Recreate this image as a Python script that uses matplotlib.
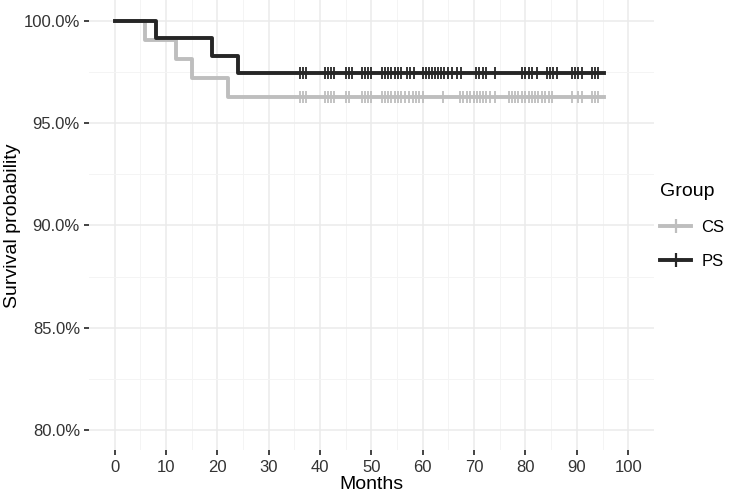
import numpy as np
import matplotlib.pyplot as plt
from matplotlib.lines import Line2D

plt.rcParams['font.family'] = ['Liberation Sans', 'DejaVu Sans']

# Kaplan-Meier steps (months, survival %)
cs_event_times = [6, 12, 15, 22]
cs_surv = [100.0, 99.07, 98.15, 97.22, 96.30]
ps_event_times = [8, 19, 24]
ps_surv = [100.0, 99.15, 98.29, 97.44]
end_time = 95.2

# censored times
cs_censor = [36.0, 36.6, 37.2, 41.0, 41.6, 42.2, 42.8, 45.0, 45.6, 48.1, 48.7, 49.3, 49.9,
             52.0, 52.6, 53.3, 53.9, 54.5, 55.2, 55.8, 56.6, 57.3, 58.0, 58.7, 59.3, 60.1,
             64.0, 67.3, 67.9, 68.6, 69.2, 69.9, 70.5, 71.2, 71.8, 72.4, 73.1, 74.0,
             76.7, 77.3, 78.0, 78.6, 79.3, 79.9, 80.6, 81.2, 81.9, 82.5, 83.2, 83.8, 84.5, 85.1,
             89.0, 90.3, 91.0, 92.9, 93.6, 94.2]
ps_censor = [36.0, 36.6, 37.2, 41.0, 41.6, 42.2, 42.8, 45.0, 45.6, 46.2, 48.1, 48.7, 49.3, 49.9,
             52.1, 52.7, 53.3, 53.9, 54.5, 55.1, 55.7, 56.9, 57.5, 58.2,
             60.0, 60.6, 61.2, 61.8, 62.4, 63.0, 63.6, 64.2, 65.0, 65.6, 66.6, 67.5,
             70.4, 71.0, 71.7, 72.3, 74.0, 79.3, 79.9, 80.6, 81.2, 82.2,
             84.2, 84.8, 85.4, 86.1, 89.0, 89.7, 90.3, 91.0, 92.9, 93.6, 94.2]

groups = ['CS', 'PS']
colors = ['#bebebe', '#262626']

x_ticks = list(range(0, 101, 10))
y_ticks = [80, 85, 90, 95, 100]
y_labels = ['80.0%', '85.0%', '90.0%', '95.0%', '100.0%']

fig = plt.figure(figsize=(7.49, 4.97), dpi=100)
ax = fig.add_axes([0.1188, 0.0936, 0.7542, 0.9054])


def draw(ev, surv, cens, col):
    t = np.array([0] + ev + [end_time])
    s = np.array(surv + [surv[-1]])
    ax.step(t, s, where='post', color=col, lw=2.8, zorder=3)
    idx = np.searchsorted(np.array(ev), np.array(cens), side='right')
    ys = np.array(surv)[idx]
    ax.plot(cens, ys, ls='none', marker='|', ms=8.5, mew=1.3, color=col, zorder=4)


draw(cs_event_times, cs_surv, cs_censor, colors[0])
draw(ps_event_times, ps_surv, ps_censor, colors[1])

ax.set_xlim(-5, 105)
ax.set_ylim(79, 101)
ax.set_xticks(x_ticks)
ax.set_xticks(np.arange(5, 105, 10), minor=True)
ax.set_yticks(y_ticks)
ax.set_yticklabels(y_labels)
ax.set_yticks([82.5, 87.5, 92.5, 97.5], minor=True)
ax.grid(which='major', color='#ebebeb', lw=1.1)
ax.grid(which='minor', color='#f4f4f4', lw=0.7)
ax.set_axisbelow(True)
for sp in ax.spines.values():
    sp.set_visible(False)
ax.tick_params(which='major', length=3.5, width=1.2, color='#222222', labelsize=12,
               labelcolor='#333333', pad=3)
ax.tick_params(which='minor', length=0)
ax.set_xlabel('Months', fontsize=14, labelpad=1)
ax.set_ylabel('Survival probability', fontsize=14, labelpad=2)

handles = [Line2D([0], [0], color=c, lw=2.8, marker='+', ms=10, mew=1.6) for c in colors]
leg = fig.legend(handles, groups, title='Group', loc='center left', bbox_to_anchor=(0.872, 0.545),
                 frameon=False, fontsize=12, title_fontsize=14, handlelength=1.9,
                 labelspacing=1.15, borderaxespad=0, handletextpad=0.6)
leg._legend_box.align = 'left'

fig.savefig('out.png', dpi=100)
